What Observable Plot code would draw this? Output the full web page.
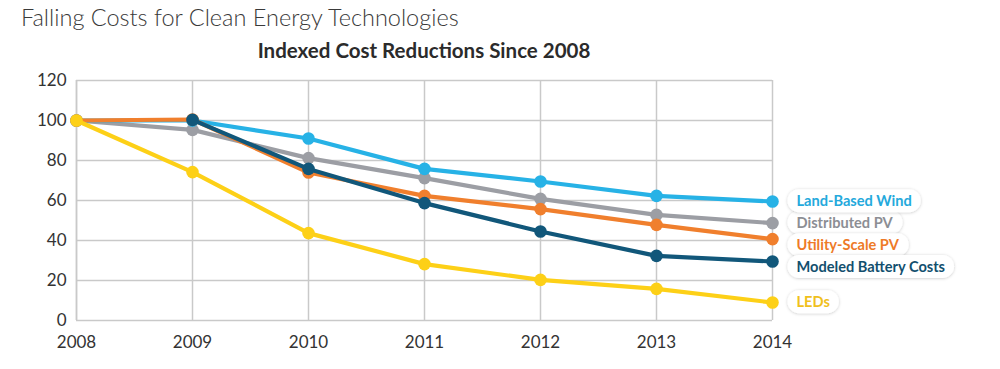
<!DOCTYPE html>
<html>
<head>
<meta charset="utf-8">
<script src="https://cdn.jsdelivr.net/npm/d3@7"></script>
<script src="https://cdn.jsdelivr.net/npm/@observablehq/plot@0.6"></script>
<style>
  html, body { margin: 0; padding: 0; background: #fff; }
  #wrap { position: relative; width: 1000px; height: 369px; overflow: hidden; font-family: Lato, "Open Sans", sans-serif; }
  #title { position: absolute; left: 21px; top: 3px; font-size: 23.5px; font-weight: 300; color: #3a3a3a; white-space: nowrap; }
  #subtitle { position: absolute; left: 76px; width: 696px; top: 38px; text-align: center; font-size: 20.5px; font-weight: 700; color: #2b2b2b; white-space: nowrap; }
  #chart { position: absolute; left: 0; top: 0; }
</style>
</head>
<body>
<div id="wrap">
  <div id="chart"></div>
  <div id="title">Falling Costs for Clean Energy Technologies</div>
  <div id="subtitle">Indexed Cost Reductions Since 2008</div>
</div>
<script>
const years = [2008, 2009, 2010, 2011, 2012, 2013, 2014];
const yTicks = [0, 20, 40, 60, 80, 100, 120];

const seriesNames = ["Distributed PV", "Land-Based Wind", "Utility-Scale PV", "Modeled Battery Costs", "LEDs"];
const distributedPV = [100, 95.3, 81.2, 71.2, 60.8, 52.8, 48.7];
const landBasedWind = [100, 100, 91, 75.8, 69.5, 62.3, 59.5];
const utilityScalePV = [100, 100.5, 74, 62.3, 55.7, 47.8, 40.7];
const batteryCosts = [null, 100.3, 75.8, 58.7, 44.5, 32.3, 29.5];
const leds = [100, 74.2, 43.7, 28.2, 20.3, 15.8, 9];
const seriesColors = ["#9c9ea4", "#27b2e6", "#f07f2d", "#11577a", "#fdd017"];
const labelColors = ["#8c8e94", "#24a9dc", "#ee7a27", "#124f6e", "#f0c01c"];
// value level at which each end label sits
const labelLevels = [48.7, 59.5, 37.5, 26.6, 9];

const allValues = [distributedPV, landBasedWind, utilityScalePV, batteryCosts, leds];
const rows = [];
allValues.forEach((vals, si) => {
  vals.forEach((v, i) => {
    if (v != null) rows.push({series: seriesNames[si], year: years[i], value: v, order: si});
  });
});
const labels = seriesNames.map((s, i) => ({series: s, year: 2014, value: labelLevels[i], color: labelColors[i]}));

const marks = [
  Plot.gridY(yTicks, {stroke: "#c9c9c9", strokeOpacity: 1, strokeWidth: 1.5}),
  Plot.gridX(years, {stroke: "#c9c9c9", strokeOpacity: 1, strokeWidth: 1.5}),
  Plot.ruleX([2008], {stroke: "#c9c9c9", strokeWidth: 1.5}),
];
seriesNames.forEach((s, i) => {
  const d = rows.filter(r => r.series === s);
  marks.push(Plot.line(d, {x: "year", y: "value", stroke: seriesColors[i], strokeWidth: 4.2, strokeLinejoin: "round", strokeLinecap: "round"}));
  marks.push(Plot.dot(d, {x: "year", y: "value", fill: seriesColors[i], r: 6.3}));
});
marks.push(Plot.text(labels, {
  x: "year", y: "value", text: "series", fill: "color",
  dx: 24, textAnchor: "start", fontSize: 14.6, fontWeight: 700,
  fontFamily: "Lato, 'Open Sans', sans-serif", className: "endlabel"
}));

const chart = Plot.plot({
  width: 1000,
  height: 369,
  marginTop: 80,
  marginLeft: 76,
  marginRight: 228,
  marginBottom: 49,
  style: {fontFamily: "Lato, 'Open Sans', sans-serif", background: "transparent", overflow: "visible"},
  x: {domain: [2008, 2014], ticks: years, tickFormat: d => String(d), tickSize: 0, tickPadding: 15, label: null},
  y: {domain: [0, 120], ticks: yTicks, tickSize: 0, tickPadding: 10, label: null},
  marks: [
    ...marks,
    Plot.axisX(years, {tickSize: 0, tickPadding: 15, fontSize: 17, fill: "#333", tickFormat: d => String(d), label: null}),
    Plot.axisY(yTicks, {tickSize: 0, tickPadding: 10, fontSize: 17, fill: "#333", label: null})
  ]
});
document.getElementById("chart").appendChild(chart);

// shadow filter + pill backgrounds behind the end labels
const svg = d3.select(chart);
const defs = svg.insert("defs", ":first-child");
const f = defs.append("filter").attr("id", "pillshadow").attr("x", "-20%").attr("y", "-50%").attr("width", "140%").attr("height", "200%");
f.append("feDropShadow").attr("dx", 0).attr("dy", 0.5).attr("stdDeviation", 1.6).attr("flood-color", "#000").attr("flood-opacity", 0.22);
svg.selectAll("g.endlabel text").each(function() {
  const bb = this.getBBox();
  const h = 23;
  const cy = bb.y + bb.height / 2;
  d3.select(this.parentNode).insert("rect", () => this)
    .attr("x", bb.x - 9).attr("y", cy - h / 2)
    .attr("width", bb.width + 18).attr("height", h)
    .attr("rx", h / 2).attr("ry", h / 2)
    .attr("fill", "#fff").attr("filter", "url(#pillshadow)")
    .attr("transform", this.getAttribute("transform"));
});
</script>
</body>
</html>
